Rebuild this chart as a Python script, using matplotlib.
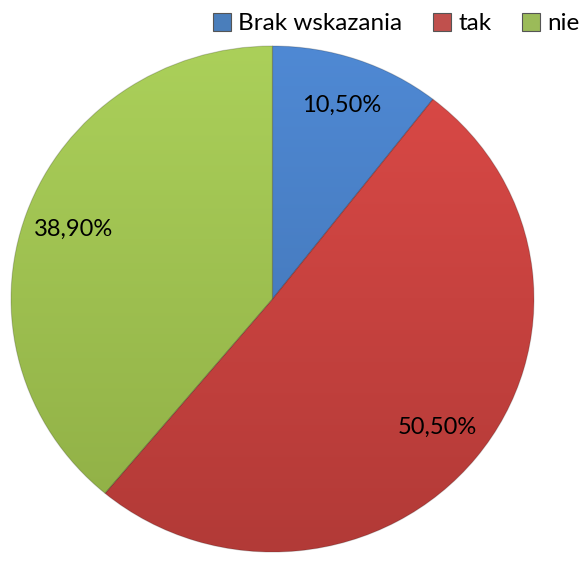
import matplotlib
matplotlib.use("Agg")
from matplotlib import pyplot as plt
from matplotlib.colors import to_rgb
import numpy as np

matplotlib.rcParams.update({'font.family': ['Lato', 'DejaVu Sans']})

categories = ['Brak wskazania', 'tak', 'nie']
values = [10.5, 50.5, 38.9]
# light (top) / dark (bottom) shade of each slice
colors_top = ['#4f89d4', '#dc4a47', '#abd05a']
colors_bottom = ['#3f70ae', '#b23a37', '#8fae45']
colors = ['#4a7ebb', '#c0504d', '#9bbb59']

fig = plt.figure(figsize=(5.82, 5.63), dpi=100)
ax = fig.add_axes([0.0189, 0.0195, 0.8986, 0.8988])

wedges, texts, autotexts = ax.pie(values, colors=colors, startangle=90,
                                  counterclock=False, autopct='%1.1f%%',
                                  pctdistance=0.81,
                                  wedgeprops=dict(edgecolor='none'))

# vertical shading inside each slice
for w, c0, c1 in zip(wedges, colors_top, colors_bottom):
    c0 = np.array(to_rgb(c0))
    c1 = np.array(to_rgb(c1))
    t = np.linspace(0, 1, 256)[:, None]
    grad = (c0 * (1 - t) + c1 * t)[:, None, :]
    im = ax.imshow(grad, extent=[-1, 1, -1, 1], origin='upper',
                   aspect='auto', zorder=w.get_zorder() + 0.1)
    im.set_clip_path(w)
    w.set_edgecolor((0, 0, 0, 0.18))
    w.set_linewidth(0.8)
    w.set_zorder(w.get_zorder() + 0.2)
    w.set_facecolor('none')

for t, v in zip(autotexts, values):
    t.set_text(f"{v:.2f}%".replace('.', ','))
    t.set_fontsize(17)
    t.set_color('black')
    t.set_zorder(5)

ax.set_aspect('auto')
ax.set_xlim(-1.0, 1.0)
ax.set_ylim(-1.0, 1.0)
ax.axis('off')

fig.legend(wedges, categories, loc='upper right', ncol=3, frameon=False,
           bbox_to_anchor=(1.008, 0.99), fontsize=17.5, handlelength=0.75,
           handleheight=0.75, handletextpad=0.3, columnspacing=1.25,
           borderaxespad=0.1, borderpad=0.2)
for h, c in zip(fig.legends[0].legend_handles, colors):
    h.set_facecolor(c)
    h.set_edgecolor('#555555')

fig.savefig('out.png', dpi=100)
